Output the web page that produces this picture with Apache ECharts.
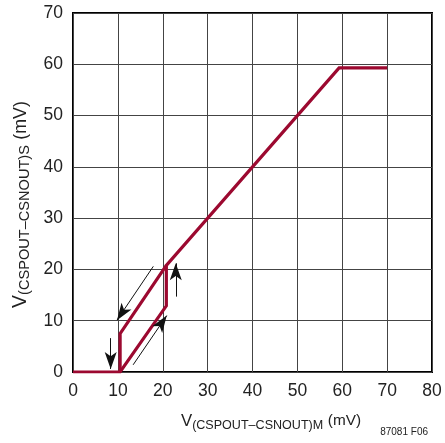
<!DOCTYPE html>
<html><head><meta charset="utf-8">
<script src="https://cdn.jsdelivr.net/npm/echarts@6/dist/echarts.min.js"></script>
<style>html,body{margin:0;padding:0;background:#fff}#c{width:445px;height:443px}</style>
</head><body><div id="c"></div>
<script>
const xTicks = [0,10,20,30,40,50,60,70,80];
const yTicks = [0,10,20,30,40,50,60,70];
// main path: rising branch and transfer line
const mainPath = [[0,0],[10.5,0],[20.8,12.9],[20.8,20.8],[59.3,59.3],[70,59.3]];
// falling branch of the hysteresis loop
const fallPath = [[10.5,0],[10.5,7.5],[20.8,20.8]];
// annotation arrows: [tail, tip]
const arrows = [
  [[8.4,6.6],[8.4,0.6]],
  [[22.9,14.7],[22.9,21.2]],
  [[17.9,20.6],[9.8,10.1]],
  [[13.4,1.4],[20.9,11.0]]
];
const RED = '#9c0930';
const FONT = '"Liberation Sans",Arial,sans-serif';
function rich(k){
  return {
    v:{fontFamily:FONT,fontSize:18*k,color:'#222',lineHeight:22},
    s:{fontFamily:FONT,fontSize:13.5*k,color:'#222',padding:[9,0,0,0],lineHeight:22},
    u:{fontFamily:FONT,fontSize:16.5*k,color:'#222',padding:[0,0,0,5*k],lineHeight:22}
  };
}
const chart = echarts.init(document.getElementById('c'), null, {renderer:'canvas'});
chart.setOption({
  animation:false,
  backgroundColor:'#fff',
  grid:{left:73,right:13,top:13,bottom:71,show:true,borderColor:'#000',borderWidth:2},
  title:{text:'87081 F06',right:12,bottom:1,textStyle:{fontFamily:FONT,fontSize:10,fontWeight:'normal',color:'#222'}},
  xAxis:{type:'value',min:xTicks[0],max:xTicks[xTicks.length-1],interval:10,
    axisLine:{show:false},axisTick:{show:false},
    splitLine:{lineStyle:{color:'#444',width:1}},
    axisLabel:{fontFamily:FONT,fontSize:17.5,color:'#222',margin:10},
    name:'{v|V}{s|(CSPOUT–CSNOUT)M}{u|(mV)}',nameLocation:'middle',nameGap:38,
    nameTextStyle:{padding:[0,0,0,37],rich:rich(0.93)}},
  yAxis:{type:'value',min:yTicks[0],max:yTicks[yTicks.length-1],interval:10,
    axisLine:{show:false},axisTick:{show:false},
    splitLine:{lineStyle:{color:'#444',width:1}},
    axisLabel:{fontFamily:FONT,fontSize:17.5,color:'#222',margin:10},
    name:'{v|V}{s|(CSPOUT–CSNOUT)S}{u|(mV)}',nameLocation:'middle',nameGap:38,
    nameTextStyle:{padding:[0,24,0,0],rich:rich(1.08)}},
  series:[
    {type:'line',data:mainPath,symbol:'none',lineStyle:{color:RED,width:3.2,join:'miter'},z:3},
    {type:'line',data:fallPath,symbol:'none',lineStyle:{color:RED,width:3.2},z:3},
    {type:'line',data:[],symbol:'none',z:4,
      markLine:{silent:true,animation:false,symbol:['none','arrow'],symbolSize:[9,17],
        label:{show:false},lineStyle:{color:'#111',width:1,type:'solid'},
        data:arrows.map(a=>[{coord:a[0]},{coord:a[1]}])}}
  ]
});
</script></body></html>
